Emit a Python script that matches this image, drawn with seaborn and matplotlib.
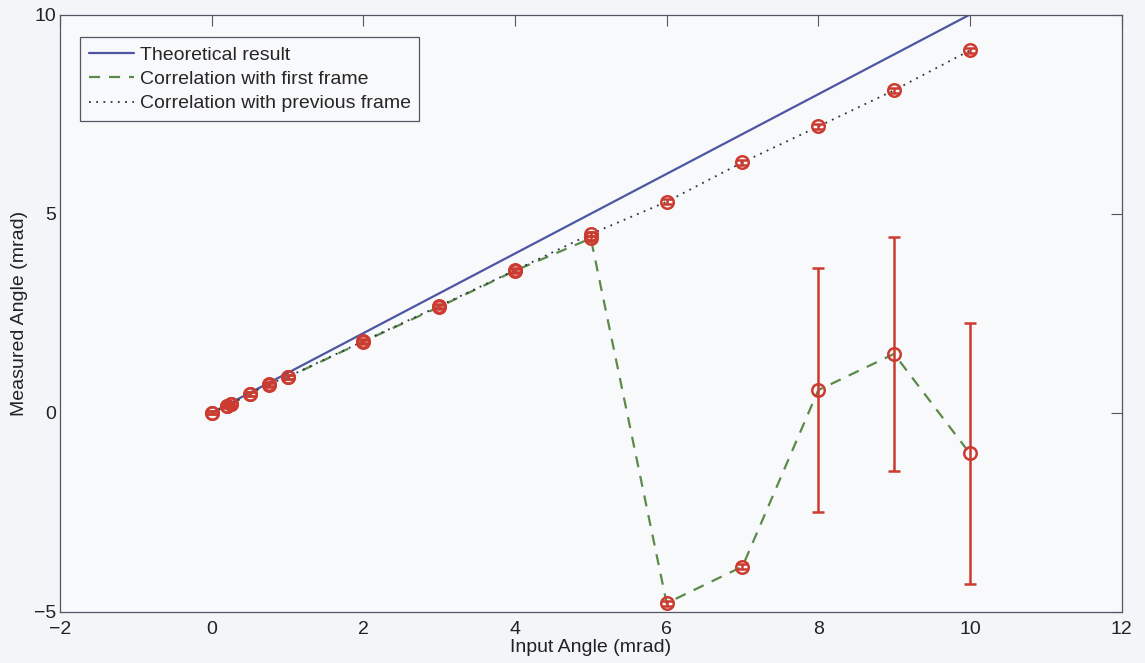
import numpy as np
import pandas as pd
import matplotlib
matplotlib.use("Agg")
import matplotlib.pyplot as plt
import seaborn as sns

# ---- data ----
input_angle = [0, 0.2, 0.25, 0.5, 0.75, 1, 2, 3, 4, 5, 6, 7, 8, 9, 10]
theoretical = [0, 0.2, 0.25, 0.5, 0.75, 1, 2, 3, 4, 5, 6, 7, 8, 9, 10]
first_frame = [0, 0.17, 0.22, 0.47, 0.71, 0.89, 1.79, 2.66, 3.57, 4.38, -4.78, -3.86, 0.57, 1.48, -1.02]
first_err = [0.04, 0.04, 0.04, 0.05, 0.05, 0.05, 0.05, 0.05, 0.05, 0.06, 0.06, 0.06, 3.07, 2.93, 3.28]
previous_frame = [0, 0.18, 0.23, 0.48, 0.72, 0.9, 1.8, 2.68, 3.58, 4.49, 5.3, 6.29, 7.19, 8.1, 9.1]
previous_err = [0.04, 0.04, 0.04, 0.05, 0.05, 0.05, 0.05, 0.05, 0.05, 0.06, 0.06, 0.06, 0.06, 0.06, 0.06]
labels = ["Theoretical result", "Correlation with first frame", "Correlation with previous frame"]

sns.set_theme(style="white")
plt.rcParams["font.family"] = ["Liberation Sans", "DejaVu Sans"]

fig = plt.figure(figsize=(11.45, 6.63), dpi=100, facecolor="#f3f5f8")
ax = fig.add_axes([0.0525, 0.077, 0.927, 0.901])
ax.set_facecolor("#f8f9fb")

blue = "#4e55a3"
green = "#5b8a4a"
dark = "#2e3046"
red = "#cc3b30"

df = pd.DataFrame({"x": input_angle, "theo": theoretical, "first": first_frame, "prev": previous_frame})

sns.lineplot(data=df, x="x", y="theo", ax=ax, color=blue, lw=1.6, label=labels[0])
sns.lineplot(data=df, x="x", y="first", ax=ax, color=green, lw=1.6, label=labels[1])
sns.lineplot(data=df, x="x", y="prev", ax=ax, color=dark, lw=1.3, label=labels[2])
lines = ax.get_lines()
lines[1].set_dashes([5, 4])
lines[2].set_dashes([1, 3])

for y, e in [(first_frame, first_err), (previous_frame, previous_err)]:
    ax.errorbar(input_angle, y, yerr=e, fmt="o", mfc="none", mec=red, ms=9, mew=1.8,
                ecolor=red, elinewidth=1.8, capsize=4.5, capthick=1.8, zorder=5)

ax.set_xlim(-2, 12)
ax.set_ylim(-5, 10)
ax.set_xticks([-2, 0, 2, 4, 6, 8, 10, 12])
ax.set_yticks([-5, 0, 5, 10])
ax.tick_params(direction="in", length=8, width=0.8, color="#555566", labelsize=14,
               top=True, right=True, labelcolor="#222222")
ax.tick_params(axis="x", pad=6.5)
ax.tick_params(axis="y", pad=3)
for s in ax.spines.values():
    s.set_color("#555566")
    s.set_linewidth(0.9)
    s.set_visible(True)

ax.set_xlabel("Input Angle (mrad)", fontsize=14, color="#222222", labelpad=1)
ax.set_ylabel("Measured Angle (mrad)", fontsize=14, color="#222222", labelpad=4)

leg = ax.legend(loc="upper left", bbox_to_anchor=(0.019, 0.962), fontsize=14, frameon=True,
                fancybox=False, edgecolor="#555566", facecolor="#f8f9fb", framealpha=1,
                handlelength=2.3, handletextpad=0.3, borderpad=0.45, labelspacing=0.35,
                borderaxespad=0)
leg.get_frame().set_linewidth(0.9)

fig.savefig("out.png", dpi=100, facecolor=fig.get_facecolor())
